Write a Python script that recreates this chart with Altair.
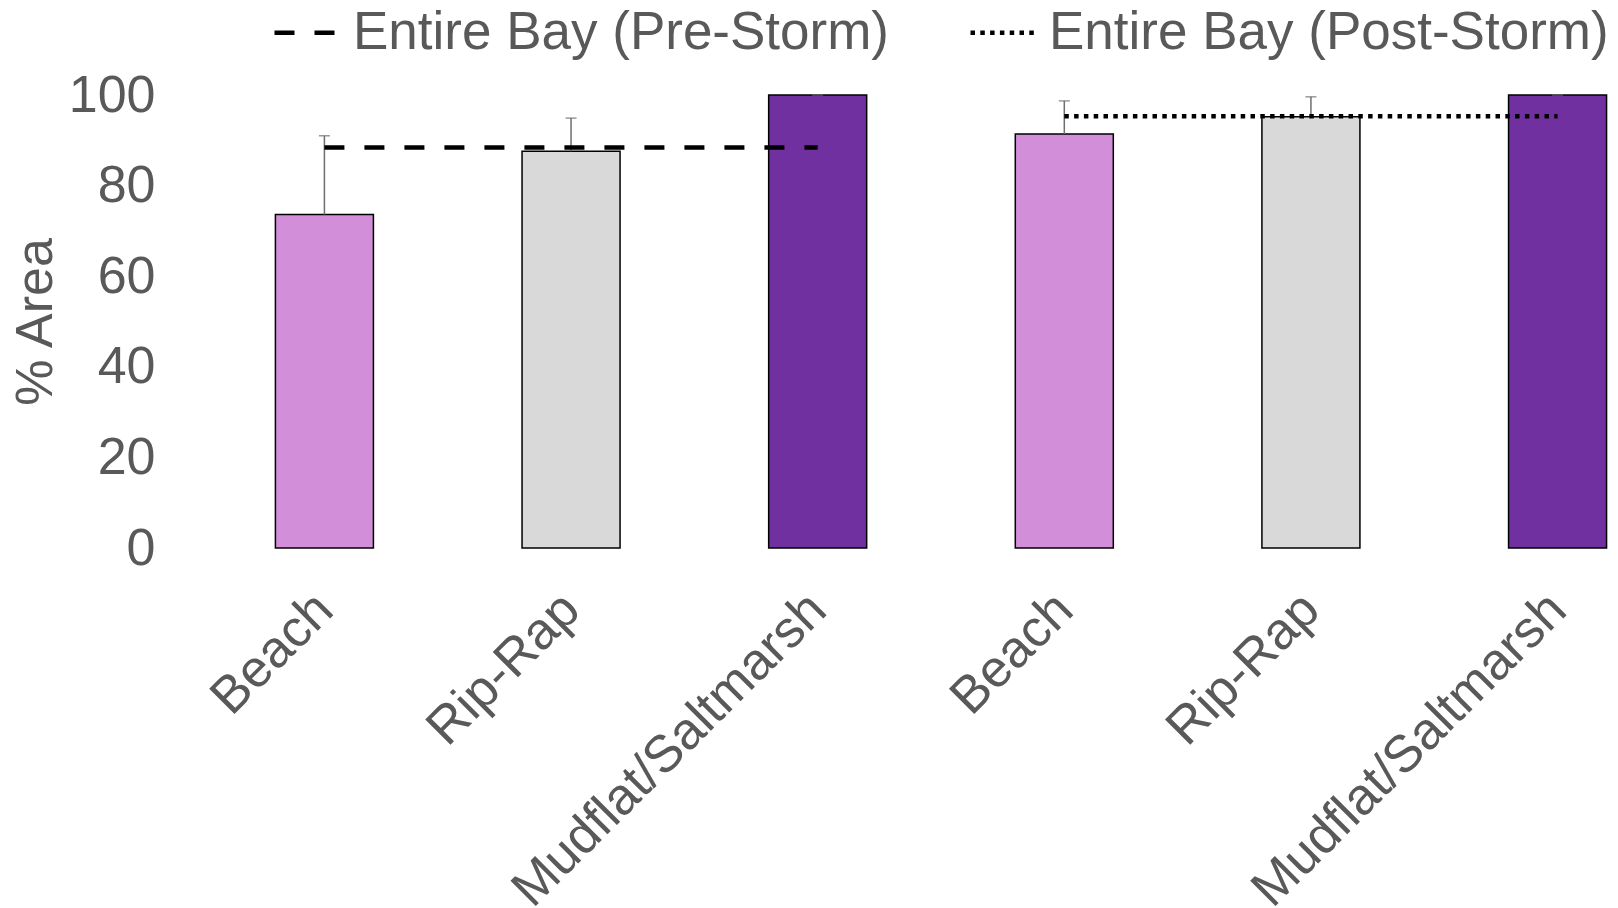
import altair as alt
import pandas as pd

# Habitat categories and their mean % area (with upper error) before and after the storm
habitats = ["Beach", "Rip-Rap", "Mudflat/Saltmarsh"]
pre_means = [73.6, 87.6, 100.0]
pre_err = [17.4, 7.3, 0.0]
post_means = [91.4, 95.2, 100.0]
post_err = [7.3, 4.4, 0.0]

# Whole-bay reference levels
bay_pre = 88.4
bay_post = 95.3
bay_names = ["Entire Bay (Pre-Storm)", "Entire Bay (Post-Storm)"]

bar_colors = ["#D38ED9", "#D9D9D9", "#7030A0"]
text_grey = "#595959"
font = "Liberation Sans"

rows = []
for period, means, errs in (("Pre", pre_means, pre_err), ("Post", post_means, post_err)):
    for h, m, e in zip(habitats, means, errs):
        rows.append({"slot": f"{period}|{h}", "habitat": h, "mean": m, "top": m + e})
bars = pd.DataFrame(rows)
slots = list(bars["slot"])

line_rows = []
for h in habitats:
    line_rows.append({"slot": f"Pre|{h}", "series": bay_names[0], "value": bay_pre})
for h in habitats:
    line_rows.append({"slot": f"Post|{h}", "series": bay_names[1], "value": bay_post})
lines = pd.DataFrame(line_rows)

x_enc = alt.X(
    "slot:N",
    sort=slots,
    scale=alt.Scale(paddingInner=0.6026, paddingOuter=0.245, align=0.955),
    axis=alt.Axis(
        title=None,
        labelExpr="split(datum.label, '|')[1]",
        labelAngle=-45,
        labelAlign="right",
        labelBaseline="middle",
        labelPadding=53,
        labelFontSize=52,
        labelFont=font,
        labelColor=text_grey,
        ticks=False,
        tickSize=0,
        domain=False,
        grid=False,
        labelOverlap=False,
        labelLimit=1000,
    ),
)

y_scale = alt.Scale(domain=[0, 100], nice=False, zero=True)

bar_layer = alt.Chart(bars).mark_bar(stroke="black", strokeWidth=1.5).encode(
    x=x_enc,
    y=alt.Y(
        "mean:Q",
        scale=y_scale,
        axis=alt.Axis(
            title="% Area",
            values=[0, 20, 40, 60, 80, 100],
            labelFontSize=52,
            labelFont=font,
            labelColor=text_grey,
            labelPadding=5,
            ticks=False,
            tickSize=0,
            domain=False,
            grid=False,
            titleFontSize=52,
            titleFont=font,
            titleColor=text_grey,
            titleFontWeight="normal",
            titlePadding=6,
        ),
    ),
    color=alt.Color(
        "habitat:N",
        scale=alt.Scale(domain=habitats, range=bar_colors),
        legend=None,
    ),
)

err_rule = alt.Chart(bars).mark_rule(color="#6E6E6E", strokeWidth=1.5).encode(
    x=alt.X("slot:N", sort=slots),
    y=alt.Y("mean:Q", scale=y_scale),
    y2="top:Q",
)

err_cap = alt.Chart(bars).mark_tick(
    color="#6E6E6E", thickness=1.5, size=11, orient="horizontal"
).encode(
    x=alt.X("slot:N", sort=slots),
    y=alt.Y("top:Q", scale=y_scale),
)

bay_lines = alt.Chart(lines).mark_line(color="black", strokeWidth=4.5).encode(
    x=alt.X("slot:N", sort=slots),
    y=alt.Y("value:Q", scale=y_scale),
    detail="series:N",
    strokeDash=alt.StrokeDash(
        "series:N",
        scale=alt.Scale(domain=bay_names, range=[[20, 20], [4.5, 5.3]]),
        legend=alt.Legend(
            title=None,
            orient="none",
            legendX=112,
            legendY=-97,
            direction="horizontal",
            symbolType="stroke",
            symbolSize=4096,
            symbolStrokeWidth=4.5,
            symbolStrokeColor="black",
            labelFontSize=53,
            labelFont=font,
            labelColor=text_grey,
            labelOffset=12,
            columnPadding=71,
            padding=0,
            labelLimit=1000,
        ),
    ),
)

chart = (
    alt.layer(bar_layer, err_rule, err_cap, bay_lines)
    .properties(
        width=1452,
        height=453,
        background="white",
        autosize=alt.AutoSizeParams(type="none"),
        padding={"left": 160, "top": 95, "right": 6, "bottom": 360},
    )
    .configure_view(strokeWidth=0, stroke="transparent")
)

chart.save("out.html", embed_options={"renderer": "svg", "actions": False})
